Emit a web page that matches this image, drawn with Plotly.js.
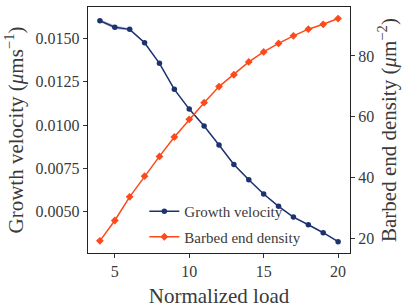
<!DOCTYPE html>
<html>
<head>
<meta charset="utf-8">
<script src="https://cdn.plot.ly/plotly-3.0.1.min.js"></script>
<style>html,body{margin:0;padding:0;background:#fff;}#chart{width:411px;height:308px;}</style>
</head>
<body>
<div id="chart"></div>
<script>
const load = [4,5,6,7,8,9,10,11,12,13,14,15,16,17,18,19,20];
const growthVelocity = [0.01602,0.01564,0.01552,0.01475,0.01356,0.01206,0.01092,0.00994,0.00885,0.00773,0.00684,0.00602,0.00531,0.00469,0.00425,0.00379,0.00327];
const growthSpread = [0.00008,0.00012,0.00006,0.00005,0.00004,0.00004,0.00004,0.00003,0.00003,0.00003,0.00003,0.00003,0.00003,0.00003,0.00003,0.00003,0.00003];
const barbedDensity = [19.1,25.8,33.6,40.4,46.9,53.3,59.1,64.6,69.9,73.8,78.0,81.3,84.1,86.6,88.8,90.4,92.3];
const leftTicks = [0.0050,0.0075,0.0100,0.0125,0.0150];
const rightTicks = [20,40,60,80];
const xTicks = [5,10,15,20];

const navy = '#1c3370';
const orange = '#fc4a1a';
const font = 'Liberation Serif';
const txt = '#3a3a3a';

const upper = growthVelocity.map((v,i)=>v+growthSpread[i]);
const lower = growthVelocity.map((v,i)=>v-growthSpread[i]);

const traces = [
  {x: load, y: upper, mode:'lines', line:{width:0, color:navy}, showlegend:false, hoverinfo:'skip'},
  {x: load, y: lower, mode:'lines', line:{width:0, color:navy}, fill:'tonexty', fillcolor:'rgba(28,51,112,0.25)', showlegend:false, hoverinfo:'skip'},
  {x: load, y: growthVelocity, name:'Growth velocity', mode:'lines+markers', legendgroup:'a',
   line:{color:navy, width:1.5}, marker:{color:navy, size:5.5, symbol:'circle'}},
  {x: load, y: barbedDensity, name:'Barbed end density', mode:'lines+markers', yaxis:'y2', legendgroup:'b',
   line:{color:orange, width:1.5}, marker:{color:orange, size:6, symbol:'diamond'}}
];

const layout = {
  width:411, height:308,
  margin:{l:88, r:61, t:7, b:55},
  paper_bgcolor:'#fff', plot_bgcolor:'#fff',
  font:{family:font, color:txt, size:15},
  showlegend:true,
  legend:{x:0.215, y:0.0, xanchor:'left', yanchor:'bottom', bgcolor:'rgba(0,0,0,0)', traceorder:'grouped',
          font:{family:font, size:15, color:txt}, tracegroupgap:3},
  xaxis:{range:[3.2,20.8], tickvals:xTicks, ticktext:xTicks.map(String), ticks:'outside', ticklen:4, tickcolor:'#333',
         showline:true, linecolor:'#222', linewidth:1.2, mirror:true, showgrid:false, zeroline:false,
         tickfont:{size:16, family:font, color:txt},
         title:{text:'Normalized load', font:{size:21, family:font, color:txt}, standoff:8}},
  yaxis:{range:[0.00262,0.01681], tickvals:leftTicks, ticktext:leftTicks.map(v=>v.toFixed(4)), ticks:'outside', ticklen:4, tickcolor:'#333',
         showline:true, linecolor:'#222', linewidth:1.2, mirror:true, showgrid:false, zeroline:false,
         tickfont:{size:16, family:font, color:txt},
         title:{text:'Growth velocity (<i>μ</i>ms<sup>−1</sup>)', font:{size:21, family:font, color:txt}, standoff:6}},
  yaxis2:{overlaying:'y', side:'right', range:[15.1,96.1], tickvals:rightTicks, ticktext:rightTicks.map(String), ticks:'outside', ticklen:4, tickcolor:'#333',
          showline:false, showgrid:false, zeroline:false,
          tickfont:{size:16, family:font, color:txt},
          title:{text:'Barbed end density (<i>μ</i>m<sup>−2</sup>)', font:{size:21, family:font, color:txt}, standoff:6}}
};

Plotly.newPlot('chart', traces, layout, {displayModeBar:false, staticPlot:true});
</script>
</body>
</html>
